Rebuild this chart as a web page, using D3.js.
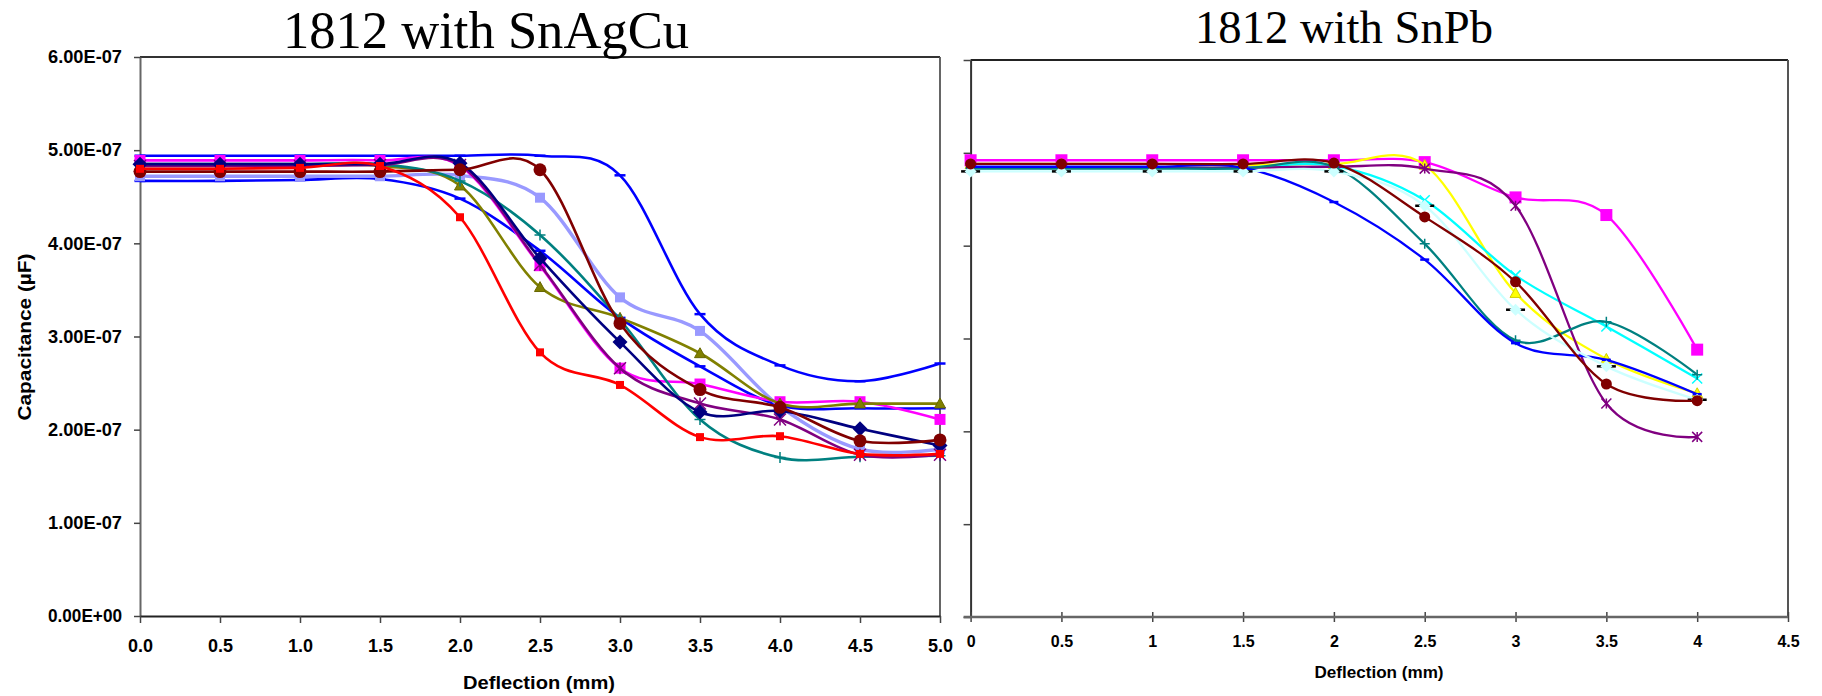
<!DOCTYPE html>
<html><head><meta charset="utf-8">
<script src="https://cdn.jsdelivr.net/npm/d3@7"></script>
<style>body{margin:0;background:#fff}svg{display:block}</style>
</head><body>
<svg id="c" width="1822" height="696"></svg>
<script>
// ---------- data (capacitance in units of 1e-7 µF) ----------
const xLeft = [0, 0.5, 1, 1.5, 2, 2.5, 3, 3.5, 4, 4.5, 5];
const xRight = [0, 0.5, 1, 1.5, 2, 2.5, 3, 3.5, 4];
const yTickValues = [0, 1, 2, 3, 4, 5, 6];
const yTickLabels = ["0.00E+00", "1.00E-07", "2.00E-07", "3.00E-07", "4.00E-07", "5.00E-07", "6.00E-07"];
const leftXTickLabels = ["0.0", "0.5", "1.0", "1.5", "2.0", "2.5", "3.0", "3.5", "4.0", "4.5", "5.0"];
const rightXTickValues = [0, 0.5, 1, 1.5, 2, 2.5, 3, 3.5, 4, 4.5];
const rightXTickLabels = ["0", "0.5", "1", "1.5", "2", "2.5", "3", "3.5", "4", "4.5"];

// 1812 with SnAgCu
const sacBlueTop   = [4.94, 4.94, 4.94, 4.94, 4.94, 4.94, 4.73, 3.24, 2.69, 2.52, 2.71];
const sacBlueLow   = [4.67, 4.67, 4.68, 4.69, 4.48, 3.92, 3.20, 2.68, 2.26, 2.23, 2.23];
const sacLightBlue = [4.72, 4.72, 4.72, 4.72, 4.73, 4.49, 3.42, 3.06, 2.25, 1.79, 1.79];
const sacMagenta   = [4.89, 4.89, 4.89, 4.89, 4.83, 3.76, 2.66, 2.49, 2.30, 2.30, 2.11];
const sacOlive     = [4.83, 4.83, 4.83, 4.83, 4.62, 3.53, 3.20, 2.82, 2.28, 2.28, 2.28];
const sacTeal      = [4.85, 4.85, 4.85, 4.85, 4.67, 4.09, 3.18, 2.11, 1.70, 1.71, 1.72];
const sacPurple    = [4.83, 4.83, 4.83, 4.84, 4.84, 3.77, 2.66, 2.28, 2.11, 1.73, 1.73];
const sacNavy      = [4.85, 4.85, 4.85, 4.85, 4.86, 3.84, 2.94, 2.19, 2.20, 2.01, 1.83];
const sacMaroon    = [4.77, 4.77, 4.77, 4.77, 4.79, 4.79, 3.14, 2.43, 2.24, 1.88, 1.89];
const sacRed       = [4.80, 4.80, 4.81, 4.83, 4.28, 2.83, 2.48, 1.92, 1.93, 1.74, 1.74];

// 1812 with SnPb
const pbMagenta   = [4.92, 4.92, 4.92, 4.92, 4.92, 4.90, 4.52, 4.33, 2.88];
const pbYellow    = [4.88, 4.88, 4.88, 4.87, 4.88, 4.87, 3.49, 2.78, 2.41];
const pbCyan      = [4.84, 4.84, 4.84, 4.84, 4.86, 4.49, 3.68, 3.13, 2.57];
const pbPurple    = [4.84, 4.84, 4.84, 4.84, 4.85, 4.83, 4.43, 2.30, 1.94];
const pbTeal      = [4.83, 4.83, 4.83, 4.83, 4.85, 4.02, 2.98, 3.18, 2.61];
const pbBlue      = [4.85, 4.85, 4.85, 4.84, 4.47, 3.85, 2.95, 2.77, 2.40];
const pbLightCyan = [4.80, 4.80, 4.80, 4.80, 4.80, 4.43, 3.31, 2.70, 2.34];
const pbMaroon    = [4.88, 4.88, 4.88, 4.88, 4.89, 4.31, 3.61, 2.51, 2.33];

// ---------- styles ----------
const leftSeries = [
  {v: sacBlueTop,   c: "#0000FF", m: "dash",     s: 11, w: 2.6},
  {v: sacBlueLow,   c: "#0000FF", m: "dash",     s: 11, w: 2.6},
  {v: sacLightBlue, c: "#9999FF", m: "square",   s: 10, w: 3.4},
  {v: sacMagenta,   c: "#FF00FF", m: "square",   s: 11, w: 2.6},
  {v: sacOlive,     c: "#808000", m: "triangle", s: 11, w: 2.6},
  {v: sacTeal,      c: "#008080", m: "plus",     s: 11, w: 2.6},
  {v: sacPurple,    c: "#800080", m: "star",     s: 12, w: 2.6},
  {v: sacNavy,      c: "#000080", m: "diamond",  s: 15, w: 2.6},
  {v: sacMaroon,    c: "#800000", m: "circle",   s: 13, w: 2.6},
  {v: sacRed,       c: "#FF0000", m: "square",   s: 8,  w: 2.6}
];
const rightSeries = [
  {v: pbMagenta,   c: "#FF00FF", m: "square",   s: 12, w: 2.3},
  {v: pbYellow,    c: "#FFFF00", m: "triangle", s: 11, w: 2.3},
  {v: pbCyan,      c: "#00FFFF", m: "x",        s: 10, w: 2.3},
  {v: pbPurple,    c: "#800080", m: "star",     s: 10, w: 2.3},
  {v: pbTeal,      c: "#008080", m: "plus",     s: 10, w: 2.3},
  {v: pbBlue,      c: "#0000FF", m: "dash",     s: 9,  w: 2.3},
  {v: pbLightCyan, c: "#CCFFFF", m: "diamondDash", s: 12, w: 2.3},
  {v: pbMaroon,    c: "#800000", m: "circle",   s: 11, w: 2.3}
];

const svg = d3.select("#c");
const FONT = "'Liberation Sans', Arial, sans-serif";

// scales
const xL = d3.scaleLinear().domain([0, 5]).range([140, 940]);
const yL = d3.scaleLinear().domain([0, 6]).range([616, 57]);
const xR = d3.scaleLinear().domain([0, 4.5]).range([970.6, 1788]);
const yR = d3.scaleLinear().domain([0, 6]).range([617, 60]);

function markerPath(type, s) {
  const h = s / 2;
  switch (type) {
    case "square": return `M${-h},${-h}H${h}V${h}H${-h}Z`;
    case "diamond": return `M0,${-h}L${h},0L0,${h}L${-h},0Z`;
    case "triangle": return `M0,${-h}L${h},${h*0.8}L${-h},${h*0.8}Z`;
    case "circle": return d3.symbol(d3.symbolCircle, Math.PI * h * h)();
    case "plus": return `M${-h},0H${h}M0,${-h}V${h}`;
    case "x": return `M${-h},${-h}L${h},${h}M${-h},${h}L${h},${-h}`;
    case "star": return `M${-h},${-h}L${h},${h}M${-h},${h}L${h},${-h}M0,${-h}V${h}`;
    case "dash": return `M${-h},0H${h}`;
  }
}
const filled = {square: 1, diamond: 1, triangle: 1, circle: 1};

function drawSeries(g, x, y, xs, series) {
  const line = d3.line().x((d, i) => x(xs[i])).y(d => y(d)).curve(d3.curveCardinal.tension(0));
  series.forEach(s => {
    g.append("path").attr("d", line(s.v)).attr("fill", "none")
      .attr("stroke", s.c).attr("stroke-width", s.w).attr("stroke-linejoin", "round");
    const mk = g.append("g");
    s.v.forEach((d, i) => {
      const t = `translate(${x(xs[i])},${y(d)})`;
      if (s.m === "diamondDash") {
        mk.append("path").attr("transform", t).attr("d", markerPath("dash", 19))
          .attr("stroke", "#000").attr("stroke-width", 2.5).attr("fill", "none");
        mk.append("path").attr("transform", t).attr("d", markerPath("diamond", s.s))
          .attr("fill", s.c).attr("stroke", "none");
      } else if (filled[s.m]) {
        mk.append("path").attr("transform", t).attr("d", markerPath(s.m, s.s))
          .attr("fill", s.c).attr("stroke", s.m === "triangle" ? d3.color(s.c).darker(0.6) : "none").attr("stroke-width", 1);
      } else {
        mk.append("path").attr("transform", t).attr("d", markerPath(s.m, s.s))
          .attr("fill", "none").attr("stroke", s.c).attr("stroke-width", s.m === "dash" ? 2.5 : 1.5);
      }
    });
  });
}

// ---------- left panel ----------
const gL = svg.append("g");
gL.append("line").attr("x1", xL(0)).attr("x2", xL(5)).attr("y1", yL(6)).attr("y2", yL(6)).attr("stroke", "#333").attr("stroke-width", 1.8);
gL.append("line").attr("x1", xL(5)).attr("x2", xL(5)).attr("y1", yL(6)).attr("y2", yL(0)).attr("stroke", "#555").attr("stroke-width", 1.8);

const axYL = gL.append("g").attr("transform", `translate(${xL(0)},0)`)
  .call(d3.axisLeft(yL).tickValues(yTickValues).tickFormat((d, i) => yTickLabels[i]).tickSize(6).tickPadding(12).tickSizeOuter(0));
const axXL = gL.append("g").attr("transform", `translate(0,${yL(0)})`)
  .call(d3.axisBottom(xL).tickValues(xLeft).tickFormat((d, i) => leftXTickLabels[i]).tickSize(7).tickPadding(16).tickSizeOuter(0));
[axYL, axXL].forEach(a => {
  a.selectAll("path.domain").attr("stroke", "#666").attr("stroke-width", 2);
  a.selectAll(".tick line").attr("stroke", "#444").attr("stroke-width", 1.5);
  a.selectAll("text").attr("font-family", FONT).attr("font-weight", "bold").attr("font-size", 18).attr("fill", "#000");
});
axYL.selectAll("text").attr("textLength", 74).attr("lengthAdjust", "spacingAndGlyphs");
axXL.selectAll("path.domain").attr("stroke", "#222");

drawSeries(gL.append("g"), xL, yL, xLeft, leftSeries);

gL.append("text").attr("x", 486).attr("y", 48).attr("text-anchor", "middle")
  .attr("font-family", "'Liberation Serif', 'Times New Roman', serif").attr("font-size", 53)
  .attr("textLength", 406).attr("lengthAdjust", "spacingAndGlyphs").text("1812 with SnAgCu");
gL.append("text").attr("transform", "translate(31,337) rotate(-90)").attr("text-anchor", "middle")
  .attr("font-family", FONT).attr("font-weight", "bold").attr("font-size", 19)
  .attr("textLength", 167).attr("lengthAdjust", "spacingAndGlyphs").text("Capacitance (µF)");
gL.append("text").attr("x", 539).attr("y", 689).attr("text-anchor", "middle")
  .attr("font-family", FONT).attr("font-weight", "bold").attr("font-size", 19)
  .attr("textLength", 152).attr("lengthAdjust", "spacingAndGlyphs").text("Deflection (mm)");

// ---------- right panel ----------
const gR = svg.append("g");
gR.append("line").attr("x1", xR(0)).attr("x2", xR(4.5)).attr("y1", yR(6)).attr("y2", yR(6)).attr("stroke", "#222").attr("stroke-width", 2);
gR.append("line").attr("x1", xR(4.5)).attr("x2", xR(4.5)).attr("y1", yR(6)).attr("y2", yR(0)).attr("stroke", "#555").attr("stroke-width", 2);

const axYR = gR.append("g").attr("transform", `translate(${xR(0)},0)`)
  .call(d3.axisLeft(yR).tickValues(yTickValues).tickFormat("").tickSize(7).tickSizeOuter(0));
axYR.selectAll("path.domain").attr("stroke", "#333").attr("stroke-width", 2);
axYR.selectAll(".tick line").attr("stroke", "#444").attr("stroke-width", 1.5);

const axXR = gR.append("g").attr("transform", `translate(0,${yR(0) - 5})`)
  .call(d3.axisBottom(xR).tickValues(rightXTickValues).tickFormat((d, i) => rightXTickLabels[i]).tickSize(10).tickPadding(14));
axXR.select("path.domain").remove();
axXR.selectAll(".tick line").attr("stroke", "#444").attr("stroke-width", 1.5);
axXR.selectAll("text").attr("font-family", FONT).attr("font-weight", "bold").attr("font-size", 16).attr("fill", "#000");
gR.append("line").attr("x1", xR(0) - 7).attr("x2", xR(4.5)).attr("y1", yR(0)).attr("y2", yR(0)).attr("stroke", "#666").attr("stroke-width", 2.5);

drawSeries(gR.append("g"), xR, yR, xRight, rightSeries);

gR.append("text").attr("x", 1344).attr("y", 43).attr("text-anchor", "middle")
  .attr("font-family", "'Liberation Serif', 'Times New Roman', serif").attr("font-size", 47)
  .attr("textLength", 298).attr("lengthAdjust", "spacingAndGlyphs").text("1812 with SnPb");
gR.append("text").attr("x", 1379).attr("y", 678).attr("text-anchor", "middle")
  .attr("font-family", FONT).attr("font-weight", "bold").attr("font-size", 16)
  .attr("textLength", 129).attr("lengthAdjust", "spacingAndGlyphs").text("Deflection (mm)");
</script>
</body></html>
